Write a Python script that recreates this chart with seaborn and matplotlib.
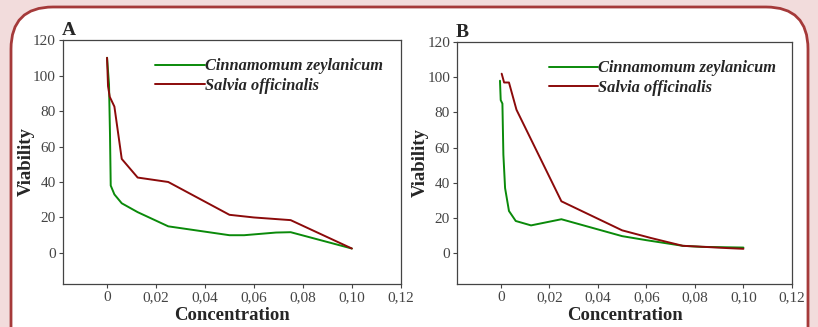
import pandas as pd
import matplotlib.pyplot as plt
import seaborn as sns
from matplotlib.patches import FancyBboxPatch

# Veriler (grafikten okunan tahmini degerler)
species = ["Cinnamomum zeylanicum", "Salvia officinalis"]

conc_a_cz = [0, 0.0008, 0.0012, 0.0015, 0.003, 0.006, 0.0125, 0.025, 0.05, 0.056, 0.069, 0.075, 0.1]
via_a_cz = [110, 95, 67, 38, 33, 28, 23, 15, 10, 10, 11.5, 11.7, 2.5]
conc_a_so = [0, 0.0004, 0.0011, 0.003, 0.006, 0.0125, 0.025, 0.05, 0.06, 0.075, 0.1]
via_a_so = [110, 94, 88, 82.5, 53, 42.5, 40, 21.5, 20, 18.5, 2.5]

conc_b_cz = [-0.0003, 0, 0.0007, 0.0011, 0.0018, 0.0034, 0.0062, 0.0125, 0.025, 0.05, 0.06, 0.075, 0.083, 0.1]
via_b_cz = [98, 87, 85, 56, 37, 24, 18.3, 15.8, 19.3, 9.7, 7.4, 4.2, 3.6, 3.2]
conc_b_so = [0.0004, 0.0014, 0.0034, 0.0065, 0.025, 0.05, 0.062, 0.075, 0.081, 0.0935, 0.1]
via_b_so = [102, 97, 97, 81.5, 29.5, 13, 8.6, 4.2, 3.8, 2.9, 2.5]

x_ticks = [0, 0.02, 0.04, 0.06, 0.08, 0.10, 0.12]
x_labels = ["0", "0,02", "0,04", "0,06", "0,08", "0,10", "0,12"]
y_ticks = [0, 20, 40, 60, 80, 100, 120]


def make_df(c1, v1, c2, v2):
    return pd.concat([
        pd.DataFrame({"conc": c1, "via": v1, "species": species[0]}),
        pd.DataFrame({"conc": c2, "via": v2, "species": species[1]}),
    ], ignore_index=True)


panels = [
    ("A", make_df(conc_a_cz, via_a_cz, conc_a_so, via_a_so), [0.077, 0.1315, 0.413, 0.746]),
    ("B", make_df(conc_b_cz, via_b_cz, conc_b_so, via_b_so), [0.5587, 0.1315, 0.4095, 0.740]),
]

sns.set_theme(style="white")
plt.rcParams["font.family"] = ["Liberation Serif", "DejaVu Serif"]

palette = {species[0]: "#0a8a0a", species[1]: "#8b0a0a"}

fig = plt.figure(figsize=(8.18, 3.27), dpi=100)
fig.patch.set_facecolor("#f2dcdc")

# cerceve: ust koseleri yuvarlak beyaz kutu (inc cinsinden)
frame = FancyBboxPatch((0.11, -1.0), 7.97, 4.20,
                       boxstyle="round,pad=0,rounding_size=0.42",
                       transform=fig.dpi_scale_trans, facecolor="white",
                       edgecolor="#a53a3a", linewidth=2, zorder=-5)
fig.add_artist(frame)

for letter, df, rect in panels:
    ax = fig.add_axes(rect)
    ax.set_facecolor("white")
    sns.lineplot(data=df, x="conc", y="via", hue="species", palette=palette,
                 estimator=None, sort=False, linewidth=1.4, ax=ax)
    ax.set_xlim(-0.018, 0.12)
    ax.set_ylim(-17.5, 120)
    ax.set_xticks(x_ticks)
    ax.set_xticklabels(x_labels)
    ax.set_yticks(y_ticks)
    ax.tick_params(axis="both", direction="out", length=3, width=0.8,
                   labelsize=11, colors="#444444", pad=2, bottom=True, left=True)
    for sp in ax.spines.values():
        sp.set_color("#444444")
        sp.set_linewidth(0.9)
    ax.set_xlabel("Concentration", fontsize=13.5, fontweight="bold", labelpad=2)
    ax.set_ylabel("Viability", fontsize=13.5, fontweight="bold", labelpad=-1)
    ax.text(-0.003, 1.005, letter, transform=ax.transAxes, fontsize=14,
            fontweight="bold", ha="left", va="bottom")
    ax.legend(loc="upper left", bbox_to_anchor=(0.23, 0.985), frameon=False,
              handlelength=3.0, handletextpad=0.0, labelspacing=0.2,
              prop={"style": "italic", "weight": "bold", "size": 11.8})

plt.savefig("out.png", dpi=100)
